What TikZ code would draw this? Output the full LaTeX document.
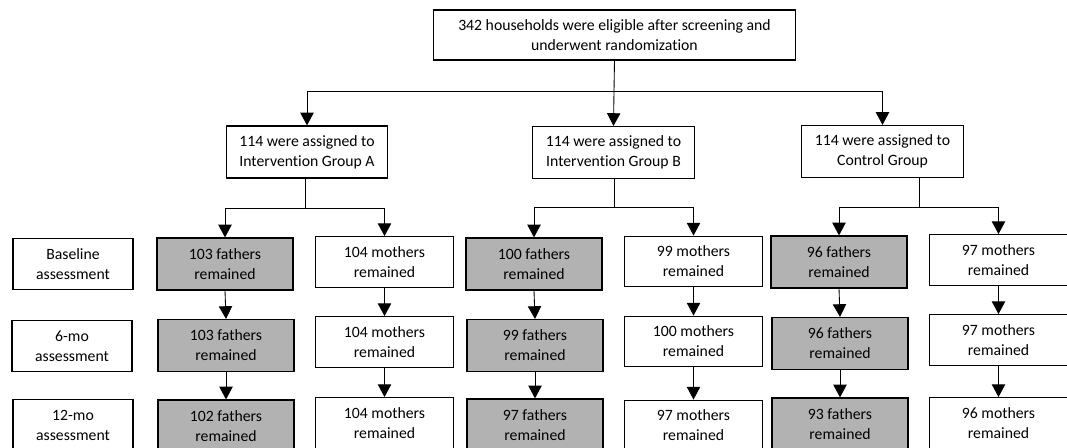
\documentclass[tikz,border=0pt]{standalone}
\usepackage{fontspec}
\setmainfont[Ligatures=NoCommon]{Carlito}
\usetikzlibrary{arrows.meta}
\tikzset{
  box/.style={draw, line width=0.9pt, align=center, inner sep=0pt, font=\fontsize{11.8}{15}\selectfont},
  flow/.style={line width=0.65pt},
  arr/.style={line width=0.65pt, -{Triangle[length=9.5pt,width=10pt]}},
  father/.style={box, fill=gray!60, minimum width=102pt, minimum height=39pt},
  mother/.style={box, minimum width=103pt, minimum height=38pt},
  label/.style={box, minimum width=90pt, minimum height=38pt},
  group/.style={box, minimum width=121pt, minimum height=39pt}
}
\begin{document}
\begin{tikzpicture}[x=0.75pt, y=-0.75pt]
  \useasboundingbox (0,0) rectangle (1067,448);
  \clip (0,0) rectangle (1067,448);
  % randomization
  \node[box, minimum width=272pt, minimum height=37.5pt] (top) at (614.5,35) {342 households were eligible after screening and\\underwent randomization};
  \node[group] (ga) at (307,152) {114 were assigned to\\Intervention Group A};
  \node[group] (gb) at (613.5,152.5) {114 were assigned to\\Intervention Group B};
  \node[group] (gc) at (882.5,151.5) {114 were assigned to\\Control Group};
  \coordinate (split) at (614,91);
  \draw[flow] (top.south) -- (split);
  \draw[arr] (split) -| (ga.north);
  \draw[arr] (split) -| (gc.north);
  \draw[arr] (split) -- (gb.north);

  % time points
  \node[label] (base) at (73,264) {Baseline\\assessment};
  \node[label] (six) at (72,346) {6-mo\\assessment};
  \node[label] (twelve) at (73,425) {12-mo\\assessment};

  % group A
  \node[father] (fa1) at (225,264) {103 fathers\\remained};
  \node[father] (fa2) at (226,345.5) {103 fathers\\remained};
  \node[father] (fa3) at (226,426) {102 fathers\\remained};
  \node[mother] (ma1) at (384.5,262) {104 mothers\\remained};
  \node[mother] (ma2) at (384.5,342) {104 mothers\\remained};
  \node[mother] (ma3) at (384.5,423) {104 mothers\\remained};
  % group B
  \node[father] (fb1) at (534,264) {100 fathers\\remained};
  \node[father] (fb2) at (535,345.5) {99 fathers\\remained};
  \node[father] (fb3) at (535,425) {97 fathers\\remained};
  \node[mother] (mb1) at (693.5,261.5) {99 mothers\\remained};
  \node[mother] (mb2) at (693.5,341.5) {100 mothers\\remained};
  \node[mother] (mb3) at (693.5,425.5) {97 mothers\\remained};
  % control
  \node[father] (fc1) at (839,262) {96 fathers\\remained};
  \node[father] (fc2) at (840,343.5) {96 fathers\\remained};
  \node[father] (fc3) at (840,424) {93 fathers\\remained};
  \node[mother] (mc1) at (998.5,260) {97 mothers\\remained};
  \node[mother] (mc2) at (998.5,340) {97 mothers\\remained};
  \node[mother] (mc3) at (998.5,423) {96 mothers\\remained};

  % split into fathers and mothers
  \coordinate (sa) at (305,208);
  \coordinate (sb) at (614,207);
  \coordinate (sc) at (919,207);
  \draw[flow] (sa |- ga.south) -- (sa);
  \draw[flow] (sb |- gb.south) -- (sb);
  \draw[flow] (sc |- gc.south) -- (sc);
  \draw[arr] (sa) -| (fa1.north);
  \draw[arr] (sa) -| (ma1.north);
  \draw[arr] (sb) -| (fb1.north);
  \draw[arr] (sb) -| (mb1.north);
  \draw[arr] (sc) -| (fc1.north);
  \draw[arr] (sc) -| (mc1.north);

  % follow-up
  \draw[arr] (fa1.south) -- (fa2.north);
  \draw[arr] (fa2.south) -- (fa3.north);
  \draw[arr] (ma1.south) -- (ma2.north);
  \draw[arr] (ma2.south) -- (ma3.north);
  \draw[arr] (fb1.south) -- (fb2.north);
  \draw[arr] (fb2.south) -- (fb3.north);
  \draw[arr] (mb1.south) -- (mb2.north);
  \draw[arr] (mb2.south) -- (mb3.north);
  \draw[arr] (fc1.south) -- (fc2.north);
  \draw[arr] (fc2.south) -- (fc3.north);
  \draw[arr] (mc1.south) -- (mc2.north);
  \draw[arr] (mc2.south) -- (mc3.north);
\end{tikzpicture}
\end{document}
